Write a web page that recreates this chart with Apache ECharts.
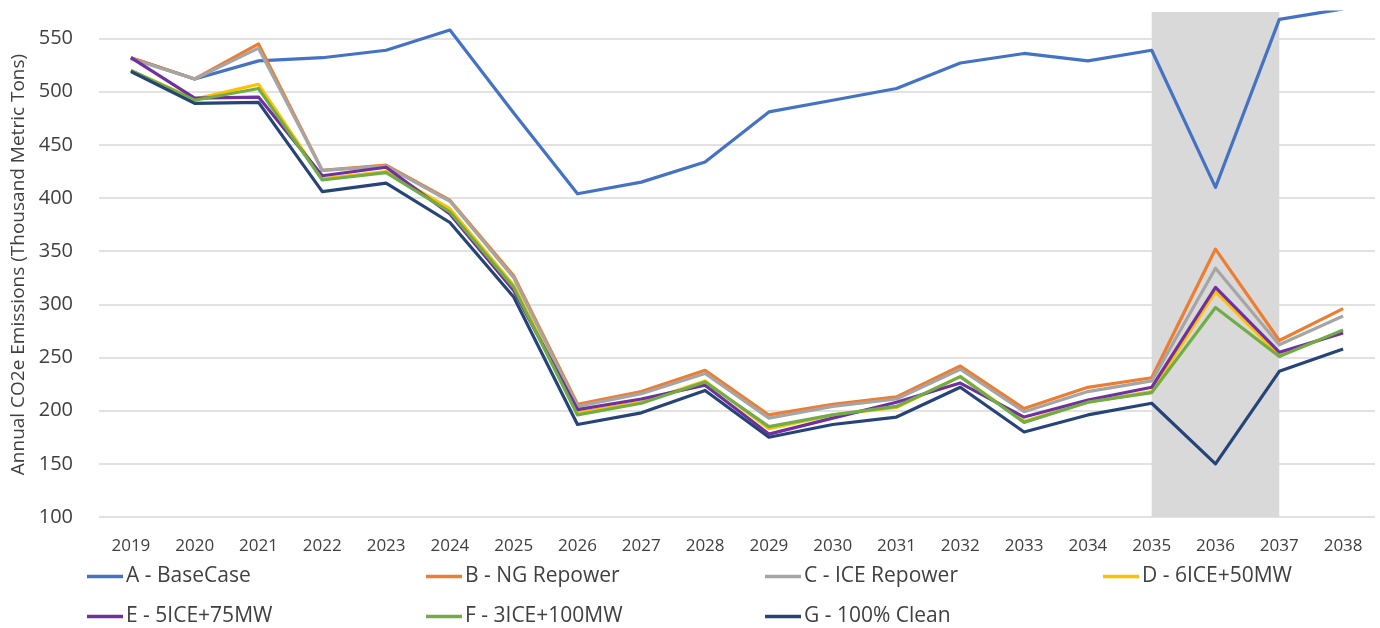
<!DOCTYPE html>
<html>
<head>
<meta charset="utf-8">
<script src="https://cdn.jsdelivr.net/npm/echarts@6/dist/echarts.min.js"></script>
<style>
  html, body { margin: 0; padding: 0; background: #fff; }
  #main { width: 1380px; height: 628px; }
</style>
</head>
<body>
<div id="main"></div>
<script>
// years on the x axis
var years = ['2019', '2020', '2021', '2022', '2023', '2024', '2025', '2026', '2027', '2028',
             '2029', '2030', '2031', '2032', '2033', '2034', '2035', '2036', '2037', '2038'];

// annual CO2e emissions, thousand metric tons
var baseCase   = [532, 512, 529, 532, 539, 558, 480, 404, 415, 434, 481, 492, 503, 527, 536, 529, 539, 410, 568, 578];
var ngRepower  = [532, 512, 545, 426, 431, 398, 327, 206, 218, 238, 196, 206, 213, 242, 202, 222, 231, 352, 266, 296];
var iceRepower = [531, 512, 541, 426, 430, 397, 325, 204, 216, 235, 193, 204, 211, 239, 199, 218, 228, 334, 262, 289];
var ice6mw50   = [520, 493, 507, 418, 425, 390, 318, 198, 208, 228, 183, 196, 203, 232, 190, 208, 218, 312, 252, 275];
var ice5mw75   = [532, 494, 495, 421, 429, 385, 313, 201, 211, 224, 178, 193, 208, 226, 194, 210, 222, 316, 255, 273];
var ice3mw100  = [520, 492, 503, 417, 424, 387, 316, 196, 207, 227, 185, 196, 204, 232, 189, 208, 217, 297, 251, 276];
var clean100   = [519, 489, 490, 406, 414, 377, 307, 187, 198, 219, 175, 187, 194, 222, 180, 196, 207, 150, 237, 258];

var seriesNames = ['A - BaseCase', 'B - NG Repower', 'C - ICE Repower', 'D - 6ICE+50MW',
                   'E - 5ICE+75MW', 'F - 3ICE+100MW', 'G - 100% Clean'];
var seriesData = [baseCase, ngRepower, iceRepower, ice6mw50, ice5mw75, ice3mw100, clean100];
var colors = ['#4472C4', '#ED7D31', '#A5A5A5', '#FFC000', '#7030A0', '#70AD47', '#264478'];

// highlighted span
var shadeFrom = '2035';
var shadeTo = '2037';

var font = '"Open Sans", "Noto Sans", sans-serif';
var textColor = '#404040';

var chartDom = document.getElementById('main');
var myChart = echarts.init(chartDom);

var series = [{
  // only carries the grey band, drawn under the lines
  name: 'shade',
  type: 'line',
  z: 0,
  data: [],
  markArea: {
    silent: true,
    itemStyle: { color: '#d9d9d9' },
    data: [[{ xAxis: shadeFrom }, { xAxis: shadeTo }]]
  }
}];
for (var i = 0; i < seriesNames.length; i++) {
  series.push({
    name: seriesNames[i],
    type: 'line',
    data: seriesData[i],
    symbol: 'none',
    color: colors[i],
    lineStyle: { width: 3.2, color: colors[i], join: 'round' },
    z: 2 + i
  });
}

// legend laid out like the original: 4 columns, 2 rows
var legendPos = [[87, 566], [426, 566], [765, 566], [1103, 566],
                 [87, 606], [426, 606], [765, 606]];
var legends = seriesNames.map(function (n, k) {
  return {
    data: [n],
    left: legendPos[k][0],
    top: legendPos[k][1],
    padding: 0,
    icon: 'rect',
    itemWidth: 36,
    itemHeight: 3.5,
    itemStyle: { color: colors[k] },
    textStyle: { fontFamily: font, fontSize: 21, color: textColor, padding: [0, 0, 0, -2] }
  };
});

var option = {
  animation: false,
  backgroundColor: '#fff',
  grid: { left: 99, right: 5, top: 12, bottom: 111 },
  legend: legends,
  xAxis: {
    type: 'category',
    data: years,
    boundaryGap: true,
    axisLine: { show: false },
    axisTick: { show: false },
    axisLabel: { fontFamily: font, fontSize: 17, color: textColor, margin: 21 }
  },
  yAxis: {
    type: 'value',
    min: 100,
    max: 575,
    interval: 50,
    name: 'Annual CO2e Emissions (Thousand Metric Tons)',
    nameLocation: 'middle',
    nameGap: 66,
    nameTextStyle: { fontFamily: font, fontSize: 19, color: textColor },
    axisLine: { show: false },
    axisTick: { show: false },
    axisLabel: { fontFamily: font, fontSize: 20, color: textColor, margin: 26, showMaxLabel: false },
    splitLine: { showMaxLine: false, lineStyle: { color: '#d9d9d9', width: 1.5 } }
  },
  series: series
};

option && myChart.setOption(option);
</script>
</body>
</html>
